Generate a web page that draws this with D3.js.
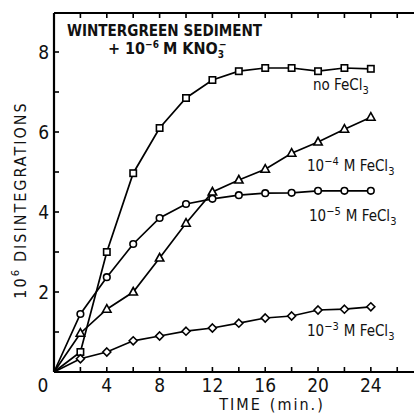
<!DOCTYPE html>
<html lang="en">
<head>
  <meta charset="UTF-8">
  <title>Wintergreen sediment</title>
  <script src="https://d3js.org/d3.v7.min.js"></script>
  <style>
    body { margin: 0; background: #fff; }
    text { font-family: "DejaVu Sans Condensed", "Liberation Sans Narrow", "Liberation Sans", sans-serif; fill: #111; }
    .tick-label { font-size: 19px; }
    .axis-title { font-size: 16px; letter-spacing: 2px; }
    .series-label { font-size: 15px; }
    .title { font-size: 16px; font-weight: bold; }
  </style>
</head>
<body>
  <div id="chart"></div>
  <script>
    // minutes
    const times = [0, 2, 4, 6, 8, 10, 12, 14, 16, 18, 20, 22, 24];

    // 10^6 disintegrations
    const noFeCl3   = [0, 0.5, 3.0, 4.97, 6.1, 6.85, 7.3, 7.52, 7.6, 7.6, 7.52, 7.6, 7.58];
    const feCl3_e4  = [0, 0.97, 1.57, 2.0, 2.85, 3.72, 4.5, 4.8, 5.07, 5.47, 5.75, 6.07, 6.37];
    const feCl3_e5  = [0, 1.45, 2.37, 3.2, 3.85, 4.2, 4.33, 4.42, 4.47, 4.48, 4.53, 4.53, 4.53];
    const feCl3_e3  = [0, 0.33, 0.5, 0.78, 0.9, 1.02, 1.1, 1.22, 1.35, 1.4, 1.55, 1.57, 1.63];

    const xTickLabels = [0, 4, 8, 12, 16, 20, 24];
    const yTickLabels = [2, 4, 6, 8];

    const series = [
      { name: "no FeCl", sup: null, values: noFeCl3, marker: "square", lx: 313, ly: 90 },
      { name: "FeCl", sup: "-4", values: feCl3_e4, marker: "triangle", lx: 307, ly: 171 },
      { name: "FeCl", sup: "-5", values: feCl3_e5, marker: "circle", lx: 309, ly: 221 },
      { name: "FeCl", sup: "-3", values: feCl3_e3, marker: "diamond", lx: 307, ly: 336 }
    ];

    const W = 414, H = 417;
    const svg = d3.select("#chart").append("svg")
      .attr("width", W).attr("height", H);

    const x = d3.scaleLinear().domain([0, 27.27]).range([54, 414]);
    const y = d3.scaleLinear().domain([0, 8.975]).range([372, 13]);

    const g = svg.append("g");

    // frame: left axis, bottom axis, top border
    g.append("line").attr("x1", x(0)).attr("x2", x(0)).attr("y1", y(0)).attr("y2", y(8.975))
      .attr("stroke", "#000").attr("stroke-width", 2.2);
    g.append("line").attr("x1", x(0)).attr("x2", x(27.27)).attr("y1", y(0)).attr("y2", y(0))
      .attr("stroke", "#000").attr("stroke-width", 2.2);
    g.append("line").attr("x1", x(0)).attr("x2", x(27.27)).attr("y1", y(8.975)).attr("y2", y(8.975))
      .attr("stroke", "#000").attr("stroke-width", 2.2);

    // inward ticks
    const xt = d3.range(2, 27, 2);
    g.selectAll(".xtick-b").data(xt).enter().append("line")
      .attr("x1", d => x(d)).attr("x2", d => x(d))
      .attr("y1", y(0)).attr("y2", y(0) - 5)
      .attr("stroke", "#000").attr("stroke-width", 1.6);
    g.selectAll(".xtick-t").data(xt).enter().append("line")
      .attr("x1", d => x(d)).attr("x2", d => x(d))
      .attr("y1", y(8.975)).attr("y2", y(8.975) + 5)
      .attr("stroke", "#000").attr("stroke-width", 1.6);
    g.selectAll(".ytick").data(d3.range(1, 9)).enter().append("line")
      .attr("x1", x(0)).attr("x2", x(0) + 5)
      .attr("y1", d => y(d)).attr("y2", d => y(d))
      .attr("stroke", "#000").attr("stroke-width", 1.6);

    // tick labels
    g.selectAll(".xl").data(xTickLabels).enter().append("text")
      .attr("class", "tick-label")
      .attr("x", d => d === 0 ? x(d) - 11 : x(d))
      .attr("y", y(0) + 20)
      .attr("text-anchor", "middle")
      .text(d => d);
    g.selectAll(".yl").data(yTickLabels).enter().append("text")
      .attr("class", "tick-label")
      .attr("x", x(0) - 5)
      .attr("y", d => y(d) + 7)
      .attr("text-anchor", "end")
      .text(d => d);

    // axis titles
    const xt1 = g.append("text").attr("class", "axis-title")
      .attr("x", 272).attr("y", 410).attr("text-anchor", "middle");
    xt1.append("tspan").text("TIME");
    xt1.append("tspan").attr("dx", 8).text("(min.)");

    const yt = g.append("text").attr("class", "axis-title")
      .attr("transform", "translate(26,200) rotate(-90)")
      .attr("text-anchor", "middle");
    yt.append("tspan").text("10");
    yt.append("tspan").attr("dy", -7).attr("font-size", 11).text("6");
    yt.append("tspan").attr("dy", 7).attr("dx", 6).text("DISINTEGRATIONS");

    // title
    g.append("text").attr("class", "title").attr("x", 67).attr("y", 36)
      .attr("textLength", 195).attr("lengthAdjust", "spacingAndGlyphs")
      .text("WINTERGREEN SEDIMENT");
    const t2 = g.append("text").attr("class", "title").attr("x", 108).attr("y", 54);
    t2.append("tspan").text("+ 10");
    t2.append("tspan").attr("dy", -6).attr("font-size", 10).text("\u22126");
    t2.append("tspan").attr("dy", 6).attr("dx", 4).text("M KNO");
    t2.append("tspan").attr("dy", 4).attr("font-size", 10).text("3");
    t2.append("tspan").attr("dy", -10).attr("dx", -5).attr("font-size", 10).text("\u2212");

    // lines
    const line = d3.line().x((d, i) => x(times[i])).y(d => y(d));
    series.forEach(s => {
      g.append("path").datum(s.values)
        .attr("d", line)
        .attr("fill", "none").attr("stroke", "#000").attr("stroke-width", 1.7);
    });

    // markers (skip origin)
    series.forEach(s => {
      const pts = s.values.map((v, i) => ({ t: times[i], v })).filter(d => d.t > 0);
      const sel = g.selectAll(null).data(pts).enter();
      if (s.marker === "square") {
        sel.append("rect")
          .attr("x", d => x(d.t) - 3.2).attr("y", d => y(d.v) - 3.2)
          .attr("width", 6.4).attr("height", 6.4);
      } else if (s.marker === "circle") {
        sel.append("circle")
          .attr("cx", d => x(d.t)).attr("cy", d => y(d.v)).attr("r", 3.3);
      } else if (s.marker === "triangle") {
        sel.append("path")
          .attr("transform", d => `translate(${x(d.t)},${y(d.v)})`)
          .attr("d", "M0,-4.5L4.2,3L-4.2,3Z");
      } else {
        sel.append("path")
          .attr("transform", d => `translate(${x(d.t)},${y(d.v)})`)
          .attr("d", "M0,-4L4,0L0,4L-4,0Z");
      }
      g.selectAll("rect,circle,path[transform]")
        .attr("fill", "#fff").attr("stroke", "#000").attr("stroke-width", 1.6);
    });

    // series labels
    series.forEach(s => {
      const t = g.append("text").attr("class", "series-label").attr("x", s.lx).attr("y", s.ly);
      if (s.sup) {
        t.append("tspan").text("10");
        t.append("tspan").attr("dy", -6).attr("font-size", 11).text(s.sup.replace("-", "\u2212"));
        t.append("tspan").attr("dy", 6).attr("dx", 5).text("M " + s.name);
      } else {
        t.append("tspan").text(s.name);
      }
      t.append("tspan").attr("dy", 4).attr("font-size", 11).text("3");
    });
  </script>
</body>
</html>
